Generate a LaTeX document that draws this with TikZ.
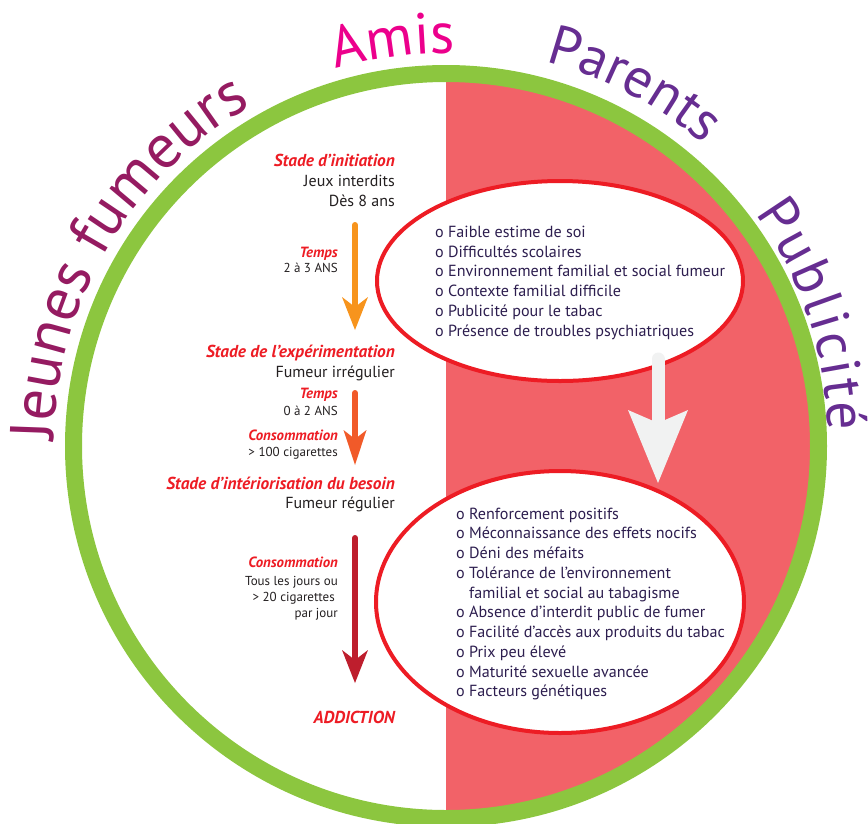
\documentclass[tikz,border=0pt]{standalone}
\usepackage{fontspec}
\setmainfont{PT Sans}
\usetikzlibrary{arrows.meta,shapes.geometric,decorations.text}
\definecolor{ringgreen}{HTML}{8CC63F}
\definecolor{pinkfill}{HTML}{F26268}
\definecolor{ellred}{HTML}{ED1C24}
\definecolor{labred}{HTML}{ED1C24}
\definecolor{bodytxt}{HTML}{231F20}
\definecolor{listtxt}{HTML}{2D1E4F}
\definecolor{plum}{HTML}{951B61}
\definecolor{magentatxt}{HTML}{EC008C}
\definecolor{purpletxt}{HTML}{662D91}
\definecolor{arrA}{HTML}{F7941D}
\definecolor{arrB}{HTML}{F15A29}
\definecolor{arrC}{HTML}{BE1E2D}
\definecolor{arrW}{HTML}{F1F2F2}
\begin{document}
\begin{tikzpicture}[x=1pt,y=-1pt,
  lab/.style={anchor=base east, inner sep=0pt, text=labred, font=\fontsize{17.3}{20}\selectfont\bfseries\itshape},
  slab/.style={lab, font=\fontsize{14.8}{17}\selectfont\bfseries\itshape},
  body/.style={anchor=base east, inner sep=0pt, text=bodytxt, font=\fontsize{16}{18}\selectfont},
  sbody/.style={body, font=\fontsize{13}{15}\selectfont},
  item/.style={anchor=base west, inner sep=0pt, text=listtxt, font=\fontsize{16.1}{18}\selectfont},
  ell/.style={ellipse, draw=ellred, line width=4pt, fill=white, inner sep=0pt},
  stagearrow/.style={line width=6pt, line cap=round},
  curved/.style={decorate, decoration={text along path, text align=center}},
]
\useasboundingbox (0,0) rectangle (868,823);
% pink half
\fill[pinkfill] (446,80) arc[start angle=-90, end angle=90, radius=366] -- cycle;
% ring
\draw[ringgreen, line width=17pt] (446,446) circle[radius=372.5];
% ellipses
\node[ell, minimum width=366pt, minimum height=200pt] (e1) at (560,281) {};
\node[ell, minimum width=368pt, minimum height=262pt] (e2) at (560,602) {};
% white arrow
\coordinate (w1) at (658,359);
\coordinate (w2) at (658,483);
\draw[arrW, line width=13pt, line cap=round, -{Stealth[length=73pt, width=60pt, inset=13pt, line width=0pt]}] (w1) -- (w2);
% stage arrows
\coordinate (a1s) at (355,225);
\coordinate (a1e) at (355,330);
\coordinate (a2s) at (355,393);
\coordinate (a2e) at (355,465);
\coordinate (a3s) at (355,538);
\coordinate (a3e) at (355,683);
\draw[stagearrow, arrA, -{Stealth[length=33pt, width=26pt, inset=10pt, line width=0pt]}] (a1s) -- (a1e);
\draw[stagearrow, arrB, -{Stealth[length=35pt, width=23pt, inset=9pt, line width=0pt]}] (a2s) -- (a2e);
\draw[stagearrow, arrC, -{Stealth[length=33pt, width=26pt, inset=10pt, line width=0pt]}] (a3s) -- (a3e);
% left column
\node[lab] (l1) at (395,166) {Stade d’initiation};
\node[body] (l2) at (395,186) {Jeux interdits};
\node[body] (l3) at (395,206) {Dès 8 ans};
\node[slab] (l4) at (338,257) {Temps};
\node[sbody] (l5) at (338,272.5) {2 à 3 ANS};
\node[lab] (l6) at (395,357) {Stade de l’expérimentation};
\node[body] (l7) at (395,377) {Fumeur irrégulier};
\node[slab] (l8) at (338,398) {Temps};
\node[sbody] (l9) at (338,415) {0 à 2 ANS};
\node[slab] (l10) at (338,440) {Consommation};
\node[sbody] (l11) at (338,456) {> 100 cigarettes};
\node[lab] (l12) at (395,489) {Stade d’intériorisation du besoin};
\node[body] (l13) at (395,508) {Fumeur régulier};
\node[slab] (l14) at (338,567) {Consommation};
\node[sbody] (l15) at (338,585) {Tous les jours ou};
\node[sbody] (l16) at (335,601) {> 20 cigarettes};
\node[sbody] (l17) at (338,617) {par jour};
\node[lab] (l18) at (395,723) {ADDICTION};
% upper list
\foreach \t [count=\i] in {Faible estime de soi, Difficultés scolaires, Environnement familial et social fumeur, Contexte familial difficile, Publicité pour le tabac, Présence de troubles psychiatriques}
  \node[item] (u\i) at (435,{237.5+(\i-1)*19.7}) {o \t};
% lower list
\foreach \t [count=\i] in {Renforcement positifs, Méconnaissance des effets nocifs, Déni des méfaits, Tolérance de l’environnement}
  \node[item] (d\i) at (456,{519+(\i-1)*19.76}) {o \t};
\node[item] (d5) at (469,{519+4*19.76}) {familial et social au tabagisme};
\foreach \t [count=\i from 6] in {Absence d’interdit public de fumer, Facilité d’accès aux produits du tabac, Prix peu élevé, Maturité sexuelle avancée, Facteurs génétiques}
  \node[item] (d\i) at (456,{519+(\i-1)*19.76}) {o \t};
% curved titles
\path[curved, decoration={text={|\fontsize{62}{62}\selectfont|Jeunes fumeurs}, text color=plum}]
  (446,446) ++(-194.5:392) arc[start angle=-194.5, end angle=-104.5, radius=392];
\path[curved, decoration={text={|\fontsize{58}{58}\selectfont|Amis}, text color=magentatxt}]
  (446,446) ++(-130:393) arc[start angle=-130, end angle=-65, radius=393];
\path[curved, decoration={text={|\fontsize{56}{56}\selectfont|Parents}, text color=purpletxt}]
  (446,446) ++(-100:397) arc[start angle=-100, end angle=-25, radius=397];
\path[decorate, decoration={text along path, text align=fit to path, text={|\fontsize{56}{56}\selectfont|Publicité}, text color=purpletxt}]
  (446,438) ++(-36:382) arc[start angle=-36, end angle=-1, radius=382];
\end{tikzpicture}
\end{document}
